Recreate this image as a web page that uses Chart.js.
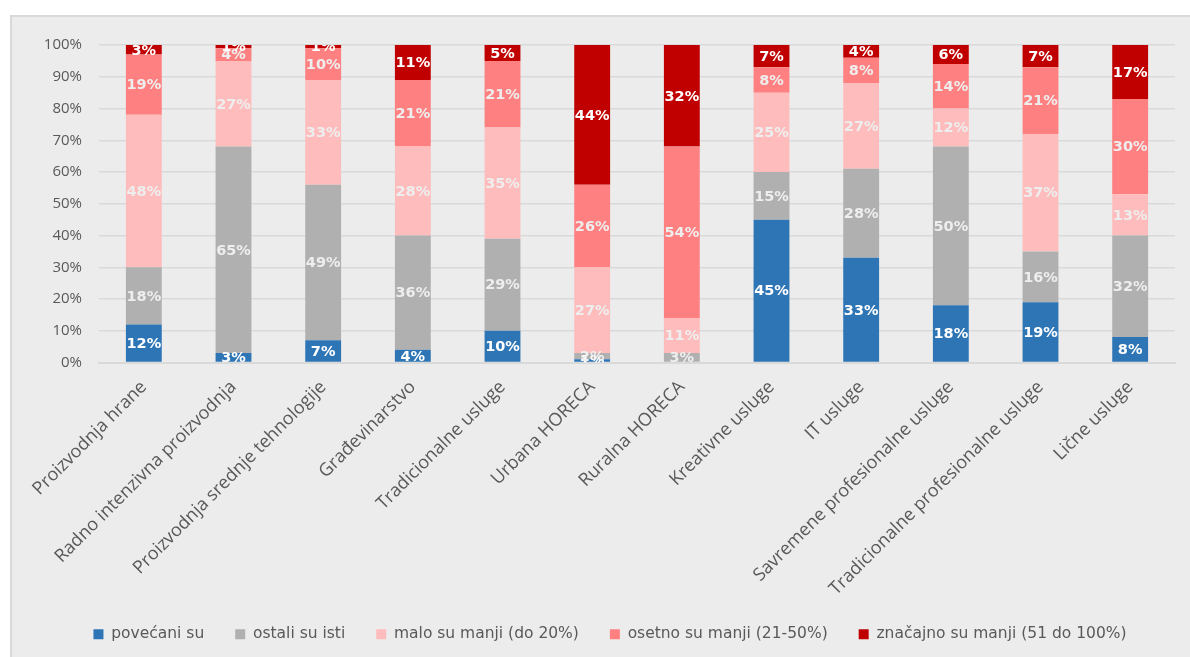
<!DOCTYPE html>
<html><head><meta charset="utf-8">
<script src="https://cdn.jsdelivr.net/npm/chart.js@4.4.0/dist/chart.umd.min.js"></script>
<style>
html,body{margin:0;padding:0;background:#ffffff;overflow:hidden;}
#frame{position:absolute;left:10px;top:15px;width:1230px;height:720px;background:#ececec;border-top:2px solid #d9d9d9;border-left:2px solid #d9d9d9;}
#wrap{position:absolute;left:12px;top:17px;width:1200px;height:635px;}
</style></head><body>
<div id="frame"></div>
<div id="wrap"><canvas id="c"></canvas></div>
<script>
const categories = ["Proizvodnja hrane","Radno intenzivna proizvodnja","Proizvodnja srednje tehnologije","Građevinarstvo","Tradicionalne usluge","Urbana HORECA","Ruralna HORECA","Kreativne usluge","IT usluge","Savremene profesionalne usluge","Tradicionalne profesionalne usluge","Lične usluge"];
const seriesNames = ["povećani su","ostali su isti","malo su manji (do 20%)","osetno su manji (21-50%)","značajno su manji (51 do 100%)"];
const povecani = [12,3,7,4,10,1,0,45,33,18,19,8];
const ostali   = [18,65,49,36,29,2,3,15,28,50,16,32];
const malo     = [48,27,33,28,35,27,11,25,27,12,37,13];
const osetno   = [19,4,10,21,21,26,54,8,8,14,21,30];
const znacajno = [3,1,1,11,5,44,32,7,4,6,7,17];
const yTickValues = [0,10,20,30,40,50,60,70,80,90,100];

const seriesData = [povecani, ostali, malo, osetno, znacajno];
const colors = ["#2e75b6","#b0b0b0","#ffbcbc","#ff8080","#c00000"];
const labelColors = ["#ffffff","#eeeeee","#eeeeee","#eeeeee","#ffffff"];

const valueLabels = {
  id: 'valueLabels',
  afterDatasetsDraw(chart) {
    const ctx = chart.ctx, a = chart.chartArea;
    ctx.save();
    ctx.beginPath();
    ctx.rect(a.left, a.top, a.right - a.left, a.bottom - a.top);
    ctx.clip();
    ctx.font = "bold 14.5px 'DejaVu Sans'";
    ctx.textAlign = 'center';
    ctx.textBaseline = 'middle';
    chart.data.datasets.forEach((ds, di) => {
      const meta = chart.getDatasetMeta(di);
      meta.data.forEach((bar, i) => {
        const v = ds.data[i];
        if (!v) return;
        const p = bar.getProps(['x','y','base'], true);
        ctx.fillStyle = labelColors[di];
        ctx.fillText(v + '%', p.x, (p.y + p.base) / 2 + 1);
      });
    });
    ctx.restore();
  }
};

new Chart(document.getElementById('c'), {
  type: 'bar',
  data: {
    labels: categories,
    datasets: seriesData.map((d, i) => ({
      label: seriesNames[i],
      data: d,
      backgroundColor: colors[i],
      borderWidth: 0,
      barPercentage: 0.8,
      categoryPercentage: 0.5
    }))
  },
  options: {
    responsive: true,
    maintainAspectRatio: false,
    animation: false,
    events: [],
    layout: { padding: { left: 33, right: 37, top: 28, bottom: 0 } },
    scales: {
      x: {
        stacked: true,
        grid: { display: false },
        border: { display: true, color: '#d9d9d9', width: 2 },
        ticks: {
          autoSkip: false, minRotation: 45, maxRotation: 45, padding: 6,
          color: '#595959', font: { family: "'Open Sans'", size: 18 }
        },
        afterFit(scale) { scale.height = 233; }
      },
      y: {
        stacked: true,
        min: 0, max: 100,
        afterBuildTicks(scale) { scale.ticks = yTickValues.map(v => ({ value: v })); },
        grid: { color: '#d9d9d9', lineWidth: 1.5, drawTicks: false },
        border: { display: false },
        ticks: {
          padding: 17, color: '#595959',
          font: { family: "'Open Sans'", size: 15 },
          callback: v => v + '%'
        },
        afterFit(scale) { scale.width = 54; }
      }
    },
    plugins: {
      legend: {
        position: 'bottom',
        labels: {
          boxWidth: 10, boxHeight: 10, padding: 31,
          color: '#595959', font: { family: "'DejaVu Sans'", size: 15.5 }
        }
      },
      tooltip: { enabled: false },
      title: { display: false }
    }
  },
  plugins: [valueLabels]
});
</script>
</body></html>
